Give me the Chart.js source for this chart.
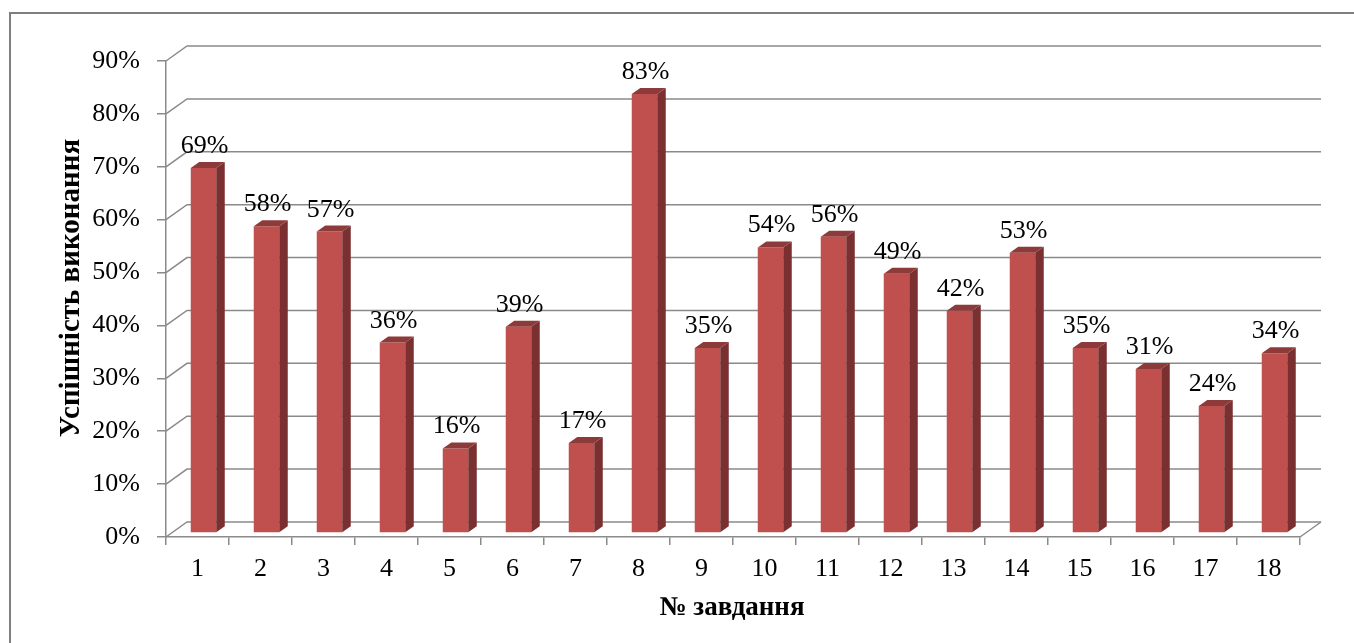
<!DOCTYPE html>
<html>
<head>
<meta charset="utf-8">
<script src="https://cdn.jsdelivr.net/npm/chart.js@4"></script>
<style>
  html, body { margin: 0; padding: 0; background: #fff; }
  canvas { display: block; }
</style>
</head>
<body>
<canvas id="tasksChart" width="1354" height="643"></canvas>
<script>
// Дані діаграми
const taskNumbers = ['1', '2', '3', '4', '5', '6', '7', '8', '9', '10', '11', '12', '13', '14', '15', '16', '17', '18'];
const successRates = [69, 58, 57, 36, 16, 39, 17, 83, 35, 54, 56, 49, 42, 53, 35, 31, 24, 34];
const yMax = 90;
const yStep = 10;
const yTitle = 'Успішність виконання';
const xTitle = '№ завдання';

const FONT = "'Liberation Serif', 'Times New Roman', serif";
const GRID_COLOR = '#8a8a8a';

// псевдо-3D: глибина стін і зсув стовпчиків
const WALL_DX = 21, WALL_DY = -15;
const BAR_DX = 6, BAR_DY = -4;
const SIDE_DX = 8.5, SIDE_DY = -6;

const bar3dPlugin = {
    id: 'bar3d',
    beforeDraw(chart) {
        const ctx = chart.ctx;
        ctx.save();
        ctx.strokeStyle = '#7f7f7f';
        ctx.lineWidth = 2;
        ctx.strokeRect(10, 13, chart.width + 20, chart.height + 20);
        ctx.restore();
    },
    beforeDatasetsDraw(chart) {
        const { ctx, chartArea: a, scales: { y } } = chart;
        ctx.save();
        ctx.strokeStyle = GRID_COLOR;
        ctx.lineWidth = 1.5;
        y.ticks.forEach(t => {
            const py = y.getPixelForValue(t.value);
            ctx.beginPath();
            ctx.moveTo(a.left, py);
            ctx.lineTo(a.left + WALL_DX, py + WALL_DY);
            ctx.lineTo(a.right + WALL_DX, py + WALL_DY);
            ctx.stroke();
        });
        // права грань підлоги
        ctx.beginPath();
        ctx.moveTo(a.right, a.bottom);
        ctx.lineTo(a.right + WALL_DX, a.bottom + WALL_DY);
        ctx.stroke();
        ctx.restore();

        // передні грані малюються трохи вглибині
        ctx.save();
        ctx.translate(BAR_DX, BAR_DY);
    },
    afterDatasetsDraw(chart) {
        const ctx = chart.ctx;
        ctx.restore();

        const meta = chart.getDatasetMeta(0);
        const values = chart.data.datasets[0].data;
        meta.data.forEach((bar, i) => {
            const { x, y, base, width } = bar.getProps(['x', 'y', 'base', 'width'], true);
            const l = x - width / 2 + BAR_DX;
            const r = x + width / 2 + BAR_DX;
            const t = y + BAR_DY;
            const b = base + BAR_DY;

            // бічна грань
            ctx.fillStyle = '#7a2f30';
            ctx.beginPath();
            ctx.moveTo(r, t);
            ctx.lineTo(r + SIDE_DX, t + SIDE_DY);
            ctx.lineTo(r + SIDE_DX, b + SIDE_DY);
            ctx.lineTo(r, b);
            ctx.closePath();
            ctx.fill();

            // верхня грань
            ctx.fillStyle = '#8d3a3a';
            ctx.beginPath();
            ctx.moveTo(l, t);
            ctx.lineTo(l + SIDE_DX, t + SIDE_DY);
            ctx.lineTo(r + SIDE_DX, t + SIDE_DY);
            ctx.lineTo(r, t);
            ctx.closePath();
            ctx.fill();

            // підпис значення
            ctx.fillStyle = '#000';
            ctx.font = '26px ' + FONT;
            ctx.textAlign = 'center';
            ctx.textBaseline = 'alphabetic';
            ctx.fillText(values[i] + '%', x + BAR_DX + 1, t - 15);
        });
    },
    afterDraw(chart) {
        const ctx = chart.ctx;
        ctx.save();
        ctx.fillStyle = '#000';
        ctx.textAlign = 'center';
        ctx.textBaseline = 'alphabetic';
        ctx.font = 'bold 27px ' + FONT;
        ctx.fillText(xTitle, 732, 615);

        ctx.font = 'bold 29px ' + FONT;
        ctx.translate(79, 288);
        ctx.rotate(-Math.PI / 2);
        ctx.fillText(yTitle, 0, 0);
        ctx.restore();
    }
};

const ctx = document.getElementById('tasksChart').getContext('2d');
new Chart(ctx, {
    type: 'bar',
    data: {
        labels: taskNumbers,
        datasets: [{
            data: successRates,
            backgroundColor: '#c0504d',
            borderWidth: 0,
            categoryPercentage: 1,
            barPercentage: 0.405
        }]
    },
    options: {
        responsive: false,
        animation: false,
        layout: {
            padding: { left: 0, right: 54, top: 61, bottom: 0 }
        },
        scales: {
            x: {
                grid: {
                    drawOnChartArea: false,
                    drawTicks: true,
                    tickLength: 8,
                    color: GRID_COLOR,
                    lineWidth: 1.5
                },
                border: { display: true, color: GRID_COLOR, width: 1.5 },
                ticks: {
                    color: '#000',
                    font: { family: FONT, size: 26 },
                    padding: 9,
                    maxRotation: 0,
                    autoSkip: false
                },
                afterFit(scale) {
                    scale.height = 106;
                }
            },
            y: {
                min: 0,
                max: yMax,
                grid: {
                    drawOnChartArea: false,
                    drawTicks: true,
                    tickLength: 9,
                    color: GRID_COLOR,
                    lineWidth: 1.5
                },
                border: { display: true, color: GRID_COLOR, width: 1.5 },
                ticks: {
                    stepSize: yStep,
                    color: '#000',
                    font: { family: FONT, size: 26 },
                    padding: 17,
                    callback: function(value) {
                        return value + '%';
                    }
                },
                afterFit(scale) {
                    scale.width = 166;
                }
            }
        },
        plugins: {
            legend: { display: false },
            tooltip: { enabled: false }
        }
    },
    plugins: [bar3dPlugin]
});
</script>
</body>
</html>
